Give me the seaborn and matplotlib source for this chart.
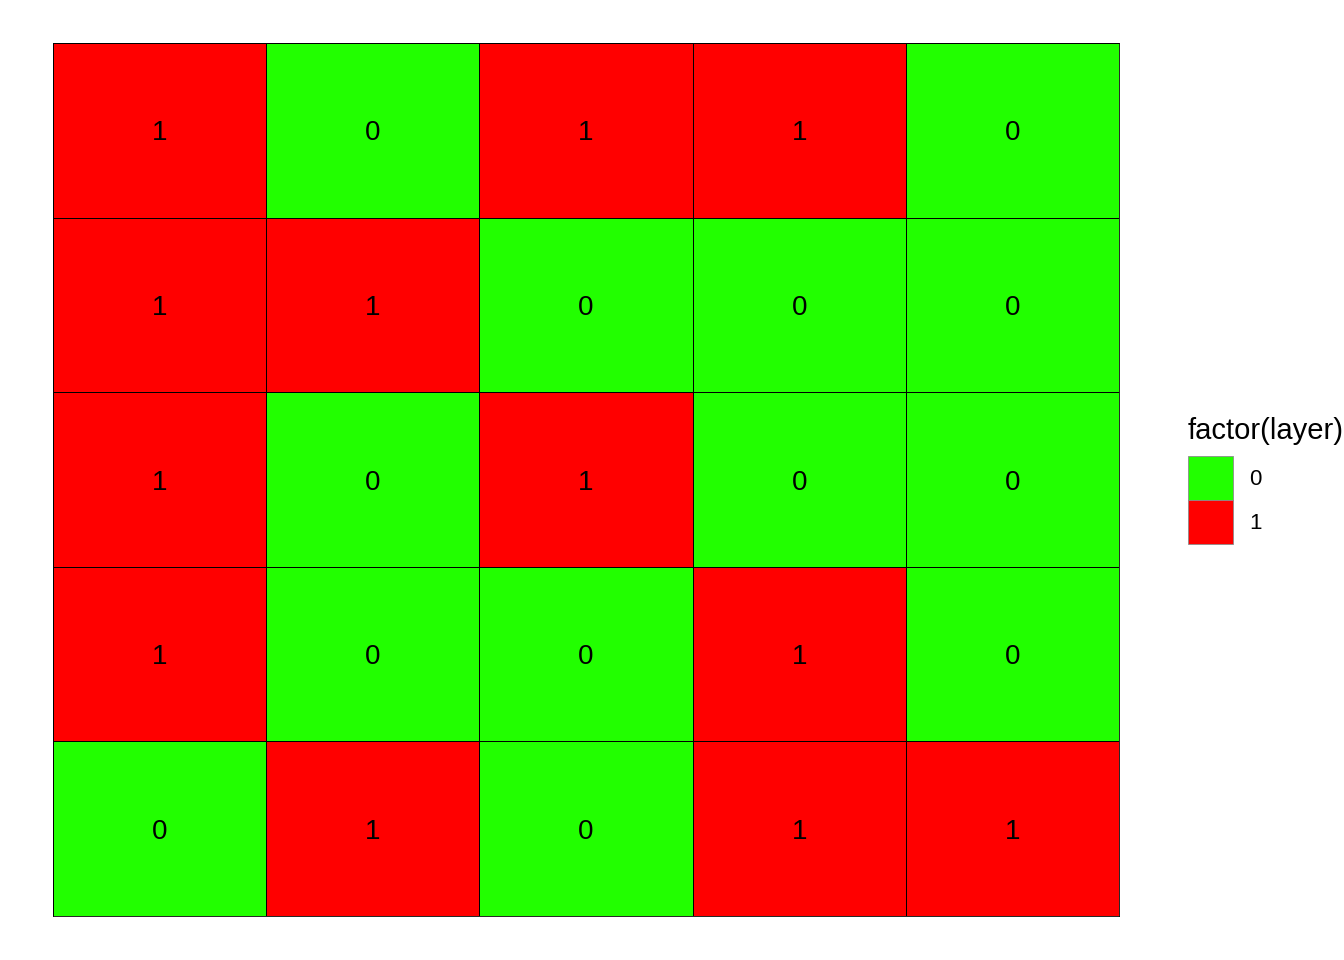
import numpy as np
import pandas as pd
import matplotlib
matplotlib.use("Agg")
import matplotlib.pyplot as plt
from matplotlib.colors import ListedColormap
from matplotlib.patches import Patch
import seaborn as sns

# grid values, top row first
row1 = [1, 0, 1, 1, 0]
row2 = [1, 1, 0, 0, 0]
row3 = [1, 0, 1, 0, 0]
row4 = [1, 0, 0, 1, 0]
row5 = [0, 1, 0, 1, 1]
layer_levels = ["0", "1"]
layer_colors = ["#22FF00", "#FF0000"]

grid = pd.DataFrame([row1, row2, row3, row4, row5])

sns.set_style("white")
plt.rcParams["font.family"] = ["Liberation Sans", "DejaVu Sans"]
plt.rcParams["text.color"] = "black"

fig = plt.figure(figsize=(13.44, 9.6), dpi=100)
ax = fig.add_axes([0.0394, 0.0458, 0.7932, 0.9094])

sns.heatmap(grid, ax=ax, cmap=ListedColormap(layer_colors), vmin=-0.5, vmax=1.5,
            annot=True, fmt="d",
            annot_kws={"size": 20, "color": "black", "va": "center_baseline"},
            linewidths=0.6, linecolor="black", cbar=False,
            xticklabels=False, yticklabels=False)

# outer border
for side in ax.spines.values():
    side.set_visible(True)
    side.set_linewidth(0.6)
    side.set_color("black")

handles = [Patch(facecolor=c, edgecolor="#8c8c8c", linewidth=0.6) for c in layer_colors]
leg = fig.legend(handles, layer_levels, title="factor(layer)", loc="upper left",
                 bbox_to_anchor=(0.884, 0.566), frameon=False, fontsize=16,
                 title_fontsize=21, handlelength=2.03, handleheight=2.67,
                 labelspacing=0, handletextpad=0.7, borderpad=0, borderaxespad=0,
                 alignment="left")
leg._legend_box.sep = 8.5

fig.savefig("out.png", dpi=100)
